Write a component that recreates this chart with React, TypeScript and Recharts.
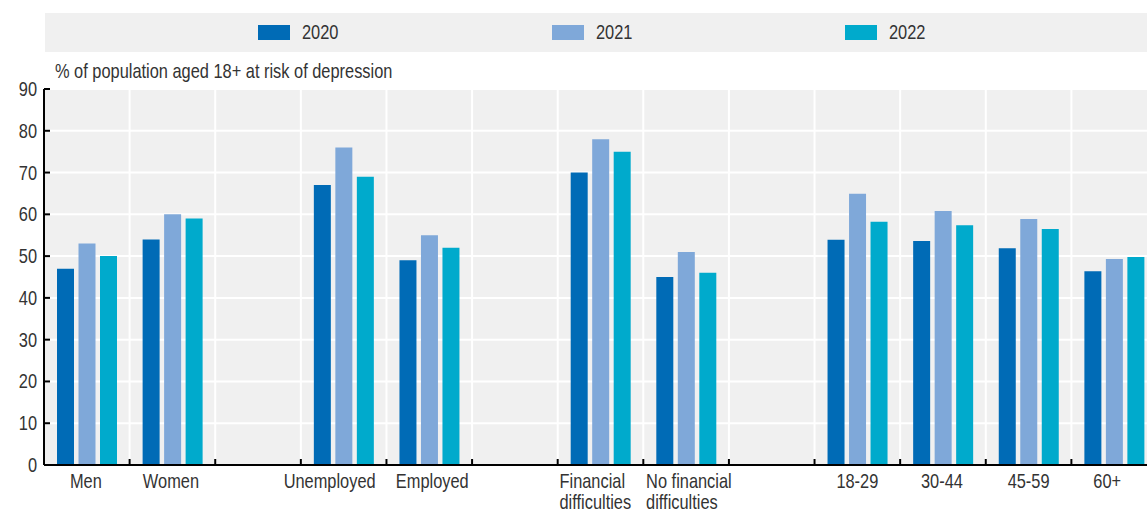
import React from 'react';
import { BarChart, Bar, XAxis, YAxis, CartesianGrid, Legend, Label } from 'recharts';

const categories: string[][] = [
  ['Men'], ['Women'], [''], ['Unemployed'], ['Employed'], [''],
  ['Financial', 'difficulties'], ['No financial', 'difficulties'], [''],
  ['18-29'], ['30-44'], ['45-59'], ['60+'],
];
const v2020: (number | null)[] = [47, 54, null, 67, 49, null, 70, 45, null, 53.9, 53.6, 51.9, 46.4];
const v2021: (number | null)[] = [53, 60, null, 76, 55, null, 78, 51, null, 64.9, 60.8, 58.9, 49.3];
const v2022: (number | null)[] = [50, 59, null, 69, 52, null, 75, 46, null, 58.2, 57.4, 56.5, 49.8];
const seriesNames = ['2020', '2021', '2022'];
const seriesColors = ['#006BB6', '#7FA8D9', '#00AACC'];
const yTicks = [0, 10, 20, 30, 40, 50, 60, 70, 80, 90];
const yTitle = '% of population aged 18+ at risk of depression';

// label nudges (style only)
const LABEL_DX = [-1, -1.5, 0, -14, 3, 0, -41, -40, 0, 0, -1, 0, -7];

const data = categories.map((c, i) => ({
  name: String(i),
  v2020: v2020[i],
  v2021: v2021[i],
  v2022: v2022[i],
}));
const keys = ['v2020', 'v2021', 'v2022'];

const FONT = "'Liberation Sans', Arial, sans-serif";
const FS = 20;
const SX = 0.82;
const TXT = '#333333';
const Y_AXIS_W = 44;
const MARGIN = { top: 50, right: -10, bottom: 0, left: 0 };
const PLOT_LEFT = MARGIN.left + Y_AXIS_W;

const NarrowText = ({ x, y, anchor, text }: any) => (
  <text
    transform={`translate(${x},${y}) scale(${SX},1)`}
    x={0}
    y={0}
    textAnchor={anchor}
    fontFamily={FONT}
    fontSize={FS}
    fill={TXT}
  >
    {text}
  </text>
);

const CatTick = (props: any) => {
  const { x, y, payload } = props;
  const idx = Number(payload.value);
  const lines = categories[idx];
  const multi = lines.length > 1;
  const bw = (x - PLOT_LEFT) / (idx + 0.5);
  const axisY = y - 8;
  return (
    <g>
      {idx > 0 ? (
        <line x1={x - bw / 2} x2={x - bw / 2} y1={axisY} y2={axisY - 6} stroke="#000" strokeWidth={2} />
      ) : null}
      {lines[0] !== ''
        ? lines.map((l, k) => (
            <NarrowText key={k} x={x + LABEL_DX[idx]} y={y + 15 + k * 21} anchor={multi ? 'start' : 'middle'} text={l} />
          ))
        : null}
    </g>
  );
};

const YTick = (props: any) => {
  const { x, y, payload } = props;
  return <NarrowText x={x} y={y + 7} anchor="end" text={String(payload.value)} />;
};

const LegendContent = () => (
  <div style={{ width: 1102, height: 39, background: '#F0F0F0', position: 'relative', fontFamily: FONT }}>
    {seriesNames.map((n, i) => (
      <div key={n} style={{ position: 'absolute', left: 213 + i * 293.5, top: 12, display: 'flex', alignItems: 'center' }}>
        <div style={{ width: 32, height: 15, background: seriesColors[i] }} />
        <span
          style={{
            marginLeft: 12,
            fontSize: FS,
            color: TXT,
            lineHeight: '15px',
            display: 'inline-block',
            transform: `scaleX(${SX})`,
            transformOrigin: 'left center',
          }}
        >
          {n}
        </span>
      </div>
    ))}
  </div>
);

export default function App() {
  return (
    <div style={{ position: 'absolute', left: 0, top: 0, width: 1147, height: 513, background: '#fff', overflow: 'hidden' }}>
      <BarChart width={1147} height={513} data={data} margin={MARGIN} barSize={17} barGap={4.5}>
        <Legend
          verticalAlign="top"
          content={<LegendContent />}
          wrapperStyle={{ position: 'absolute', left: 45, top: 13, width: 1102, height: 39 }}
        />
        <CartesianGrid
          stroke="#ffffff"
          strokeWidth={2}
          fill="#F0F0F0"
          fillOpacity={1}
          verticalCoordinatesGenerator={(p: any) => {
            const off = p.offset;
            const n = categories.length;
            return categories.map((_, i) => off.left + (i * off.width) / n).concat([off.left + off.width]);
          }}
        />
        <XAxis
          dataKey="name"
          height={48}
          interval={0}
          axisLine={{ stroke: '#000', strokeWidth: 2 }}
          tickLine={false}
          tick={<CatTick />}
        />
        <YAxis
          width={Y_AXIS_W}
          domain={[0, 90]}
          ticks={yTicks}
          interval={0}
          axisLine={{ stroke: '#000', strokeWidth: 2 }}
          tickLine={{ stroke: '#000', strokeWidth: 2 }}
          tickSize={-6}
          tickMargin={13}
          tick={<YTick />}
        >
          <Label
            content={(p: any) => {
              const vb = p.viewBox || { x: 0, y: 0, width: Y_AXIS_W };
              return <NarrowText x={vb.x + vb.width + 11} y={vb.y - 11} anchor="start" text={yTitle} />;
            }}
          />
        </YAxis>
        {keys.map((k, i) => (
          <Bar key={k} dataKey={k} name={seriesNames[i]} fill={seriesColors[i]} isAnimationActive={false} />
        ))}
      </BarChart>
    </div>
  );
}
